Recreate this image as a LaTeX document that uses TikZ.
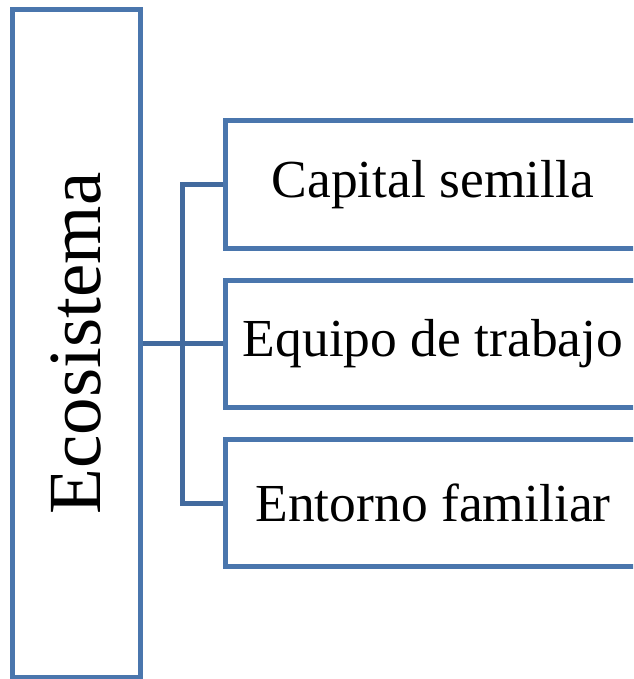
\documentclass[tikz,border=0pt]{standalone}
\usepackage{fontspec}
\setmainfont{Liberation Serif}
\usetikzlibrary{calc}
\definecolor{boxline}{RGB}{74,118,173}
\definecolor{linkline}{RGB}{66,106,158}
\tikzset{
  box/.style={draw=boxline, line width=5pt, inner sep=0pt, fill=white},
  item/.style={box, minimum width=416pt, minimum height=127pt,
    font=\fontsize{53.5}{60}\selectfont},
  link/.style={draw=linkline, line width=5pt}
}

\begin{document}
\begin{tikzpicture}[x=1pt, y=-1pt]
			%%%%% START %%%%%
			\useasboundingbox (0, 0) rectangle (633, 679);
			\clip (0, 0) rectangle (633, 679);
			
			\node[box, rotate=90, minimum width=667pt, minimum height=128pt,
			  font=\fontsize{75}{80}\selectfont] (eco) at (76.5, 343.5) {Ecosistema};
			
			\node[item] (seed) at (433, 184.5) {Capital semilla};
			\node[item] (team) at (433, 343.5) {Equipo de trabajo};
			\node[item] (family) at (433, 503) {Entorno familiar};
			
			\draw[link] (team.west -| eco.south) -- (team.west);
			\draw[link] (seed.west) -- ++(-40, 0) |- (family.west);
			%%%%% END %%%%%
		\end{tikzpicture}
\end{document}
